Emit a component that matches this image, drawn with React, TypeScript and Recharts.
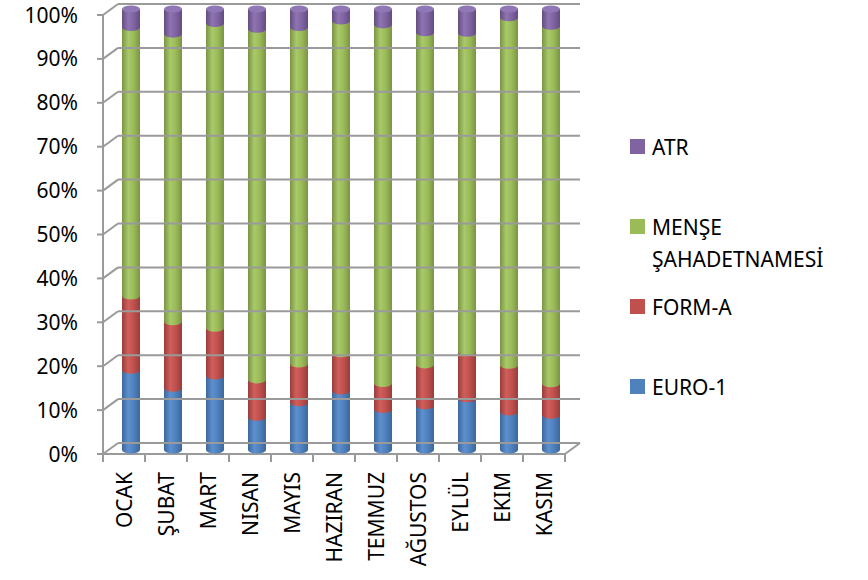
import React from 'react';
import { ComposedChart, Bar, XAxis, YAxis, Legend } from 'recharts';

const months = ['OCAK', 'ŞUBAT', 'MART', 'NISAN', 'MAYIS', 'HAZIRAN', 'TEMMUZ', 'AĞUSTOS', 'EYLÜL', 'EKIM', 'KASIM'];
const euro1 = [18.1, 14.0, 16.8, 7.4, 10.7, 13.4, 9.2, 10.0, 11.6, 8.6, 7.9];
const formA = [16.8, 15.1, 10.8, 8.5, 8.8, 8.4, 5.9, 9.3, 10.6, 10.6, 7.1];
const mense = [60.9, 65.2, 69.1, 79.5, 76.3, 75.5, 81.3, 75.3, 72.3, 78.8, 81.1];
const atr = [4.2, 5.7, 3.3, 4.6, 4.2, 2.7, 3.6, 5.4, 5.5, 2.0, 3.9];
const yTicks = [0, 10, 20, 30, 40, 50, 60, 70, 80, 90, 100];
const legendOrder = ['ATR', 'MENŞE ŞAHADETNAMESİ', 'FORM-A', 'EURO-1'];

const data = months.map((m, i) => ({ month: m, euro1: euro1[i], formA: formA[i], mense: mense[i], atr: atr[i] }));

const FONT = '"Noto Sans", "Open Sans", sans-serif';
const GRID = '#9a9a9a';
const DX = 15;
const DY = 11;
const CHART_W = 868;
const CHART_H = 580;
const MARGIN_R = 73;
const LEGEND_W = 230;
const Y_AXIS_W = 103;
const TICK_SIZE = 6;
const TICK_MARGIN = 19;
const PLOT_RIGHT = CHART_W - MARGIN_R - LEGEND_W;

const makeShape = (gradId: string, cap?: string) => (p: any) => {
  const { x, y, width: w, height: h } = p;
  if (!h || h <= 0) return <g />;
  const rx = w / 2;
  const ry = 3.5;
  const d = `M${x},${y} L${x + w},${y} L${x + w},${y + h} A${rx},${ry} 0 0 1 ${x},${y + h} Z`;
  return (
    <g>
      <path d={d} fill={`url(#${gradId})`} />
      {cap ? <ellipse cx={x + rx} cy={y} rx={rx} ry={ry} fill={cap} /> : null}
    </g>
  );
};

const YTick = (p: any) => {
  const { x, y, payload } = p;
  const ax = x + TICK_SIZE + TICK_MARGIN;
  return (
    <g>
      <line x1={ax} y1={y} x2={ax + DX} y2={y - DY} stroke={GRID} strokeWidth={2} />
      <line x1={ax + DX} y1={y - DY} x2={PLOT_RIGHT + DX} y2={y - DY} stroke={GRID} strokeWidth={2} />
      <text x={x} y={y} dy="0.36em" textAnchor="end" fontFamily={FONT} fontSize={21} fill="#000">
        {payload.value}%
      </text>
    </g>
  );
};

const XTick = (p: any) => {
  const { x, y, payload, index } = p;
  const half = payload.offset || 21;
  const top = y - 8; // axis line y
  const last = index === months.length - 1;
  return (
    <g>
      <line x1={x - half} y1={top} x2={x - half} y2={top + 8} stroke={GRID} strokeWidth={2} />
      {last ? <line x1={x + half} y1={top} x2={x + half} y2={top + 8} stroke={GRID} strokeWidth={2} /> : null}
      {last ? <line x1={x + half} y1={top} x2={x + half + DX} y2={top - DY} stroke={GRID} strokeWidth={2} /> : null}
      <text
        x={x}
        y={top + 18}
        dy="0.36em"
        textAnchor="end"
        transform={`rotate(-90, ${x}, ${top + 18})`}
        fontFamily={FONT}
        fontSize={21}
        fill="#000"
      >
        {payload.value}
      </text>
    </g>
  );
};

const LegendContent = (props: any) => {
  const items = legendOrder
    .map((n) => (props.payload || []).find((it: any) => it.value === n))
    .filter(Boolean);
  return (
    <div style={{ width: LEGEND_W, fontFamily: FONT, fontSize: 21, color: '#000' }}>
      {items.map((it: any) => (
        <div key={it.value} style={{ height: 80, display: 'flex', alignItems: 'flex-start' }}>
          <div style={{ width: 15, height: 15, background: it.color, marginTop: 8.5, marginRight: 7, flexShrink: 0 }} />
          <div style={{ lineHeight: '32px', maxWidth: 200 }}>{it.value}</div>
        </div>
      ))}
    </div>
  );
};

const Grad = ({ id, edge, mid, light }: any) => (
  <linearGradient id={id} x1="0" y1="0" x2="1" y2="0">
    <stop offset="0%" stopColor={edge} />
    <stop offset="35%" stopColor={light} />
    <stop offset="65%" stopColor={mid} />
    <stop offset="100%" stopColor={edge} />
  </linearGradient>
);

const barZ = { zIndex: 600 } as any;

export default function App() {
  return (
    <div style={{ position: 'absolute', left: 0, top: 0, width: CHART_W, height: CHART_H, background: '#fff' }}>
      <ComposedChart
        width={CHART_W}
        height={CHART_H}
        data={data}
        margin={{ top: 15, right: MARGIN_R, bottom: 0, left: 0 }}
      >
        <defs>
          <Grad id="gBlue" edge="#3b679c" mid="#4f81bd" light="#5e90cf" />
          <Grad id="gRed" edge="#983d3b" mid="#c0504d" light="#d05f5c" />
          <Grad id="gGreen" edge="#7a9444" mid="#9bbb59" light="#a9c96a" />
          <Grad id="gPurple" edge="#634d80" mid="#8064a2" light="#8f74b2" />
        </defs>
        <YAxis
          yAxisId="front"
          type="number"
          width={Y_AXIS_W}
          domain={[0, 100]}
          allowDataOverflow
          ticks={yTicks}
          interval={0}
          tickSize={TICK_SIZE}
          tickMargin={TICK_MARGIN}
          axisLine={{ stroke: GRID, strokeWidth: 2 }}
          tickLine={{ stroke: GRID, strokeWidth: 2 }}
          tick={<YTick />}
        />
        <XAxis
          xAxisId="front"
          dataKey="month"
          height={126}
          interval={0}
          padding={{ left: 0, right: 0 }}
          axisLine={{ stroke: GRID, strokeWidth: 2 }}
          tickLine={false}
          tick={<XTick />}
        />
        <XAxis
          xAxisId="bars"
          dataKey="month"
          height={0}
          tick={false}
          axisLine={false}
          tickLine={false}
          padding={{ left: 7, right: -7 }}
        />
        <YAxis
          yAxisId="bars"
          width={0}
          tick={false}
          axisLine={false}
          tickLine={false}
          domain={[0, 100]}
          padding={{ top: -6, bottom: 4 }}
        />
        <Legend
          layout="vertical"
          align="right"
          verticalAlign="middle"
          width={LEGEND_W}
          wrapperStyle={{ left: 630, top: 130.5, width: LEGEND_W }}
          content={<LegendContent />}
        />
        <Bar xAxisId="bars" yAxisId="bars" dataKey="euro1" name="EURO-1" stackId="s" fill="#4f81bd" barSize={18} isAnimationActive={false} shape={makeShape('gBlue')} {...barZ} />
        <Bar xAxisId="bars" yAxisId="bars" dataKey="formA" name="FORM-A" stackId="s" fill="#c0504d" barSize={18} isAnimationActive={false} shape={makeShape('gRed')} {...barZ} />
        <Bar xAxisId="bars" yAxisId="bars" dataKey="mense" name="MENŞE ŞAHADETNAMESİ" stackId="s" fill="#9bbb59" barSize={18} isAnimationActive={false} shape={makeShape('gGreen')} {...barZ} />
        <Bar xAxisId="bars" yAxisId="bars" dataKey="atr" name="ATR" stackId="s" fill="#8064a2" barSize={18} isAnimationActive={false} shape={makeShape('gPurple', '#8f78b5')} {...barZ} />
      </ComposedChart>
    </div>
  );
}
